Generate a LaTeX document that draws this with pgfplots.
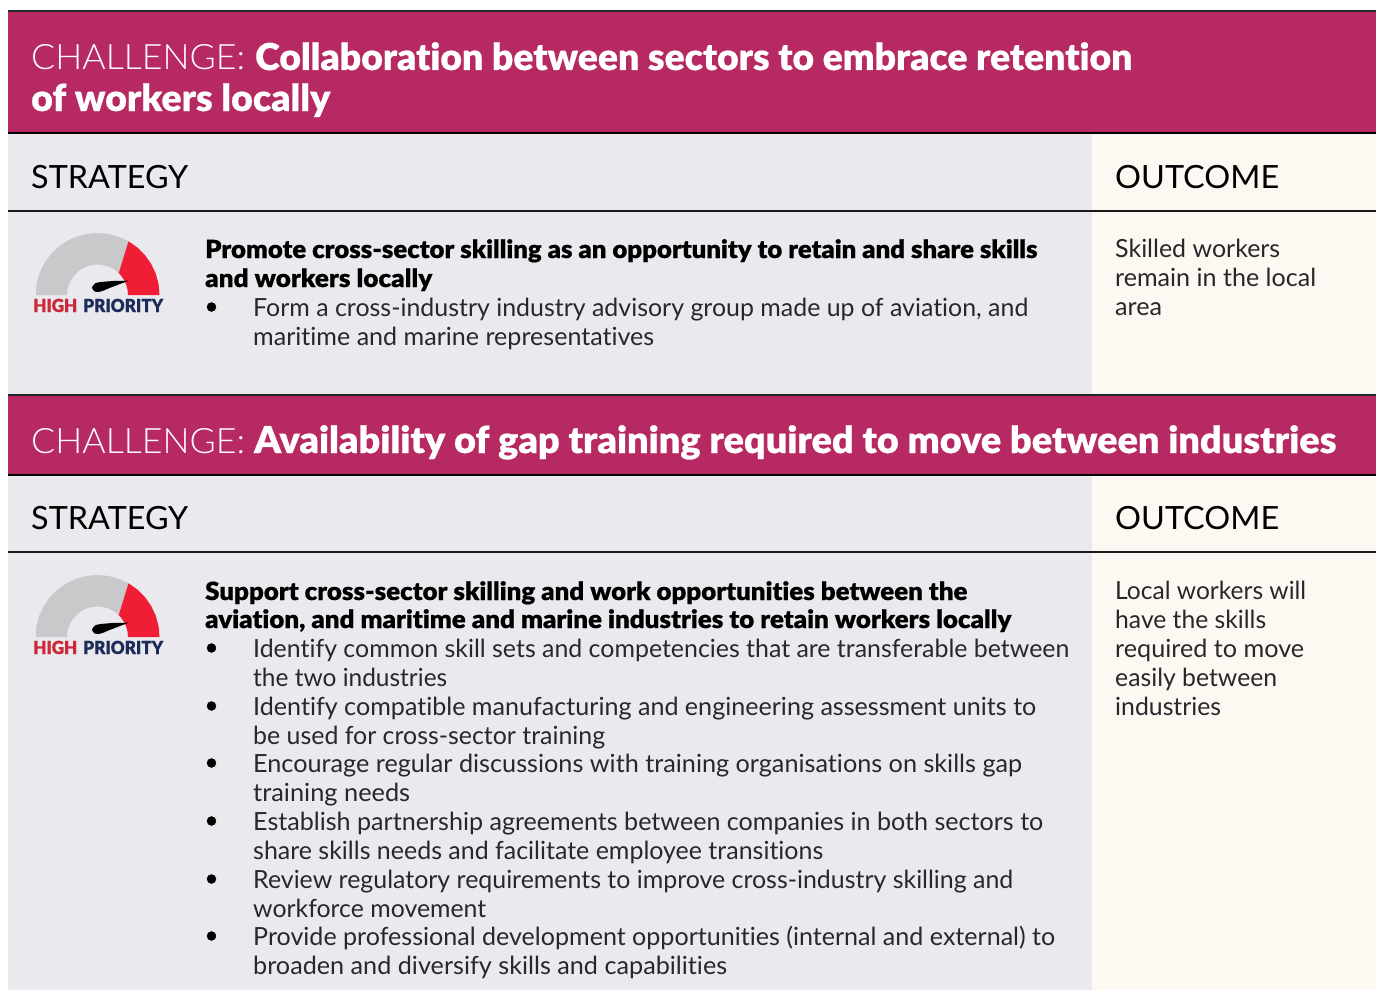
\documentclass[border=0pt]{standalone}
\usepackage{fontspec}
\setmainfont{Lato}[Ligatures=NoCommon]
\newfontfamily\lightf{Lato Light}[Ligatures=NoCommon]
\newfontfamily\blackf{Lato Black}[Ligatures=NoCommon,FakeBold=0.5]
\usepackage{pgfplots}
\usepackage{pgfplotstable}
\pgfplotsset{compat=1.18}
\definecolor{hdr}{RGB}{182,41,99}
\definecolor{panel}{RGB}{233,233,238}
\definecolor{cream}{RGB}{253,248,242}
\definecolor{ggrey}{RGB}{201,201,203}
\definecolor{gred}{RGB}{240,30,52}
\definecolor{hred}{RGB}{205,40,58}
\definecolor{hnavy}{RGB}{30,44,90}
\definecolor{body}{RGB}{40,40,44}
\pgfplotstableread{
x y
-61.5 0
-61.1 10.8
-58.3 21.2
-53.7 31
-47.5 39.9
-39.9 47.5
-31 53.7
-21.2 58.3
-10.8 61.1
0 62
10.8 61.1
21.2 58.3
31 53.7
21.2 21.9
15.25 26.4
10.4 28.7
5.3 30
0 30.5
-5.3 30
-10.4 28.7
-15.25 26.4
-19.6 23.4
-23.4 19.6
-26.4 15.25
-28.7 10.4
-30 5.3
-30.5 0
}\greytab
\pgfplotstableread{
x y
31 53.7
39.9 47.5
47.5 39.9
53.7 31
58.3 21.2
61.1 10.8
62 0
30.5 0
30 5.3
28.7 10.4
26.4 15.25
23.4 19.6
21.2 21.9
}\redtab
\pgfplotstableread{
x y
31 14.3
15 14
3 13
-2 12
-4.5 9.5
-5.5 7.5
-4.5 5
-2 3.2
1 3
5 4
12 7
20 10
}\needletab
% x, baseline, right edge, text
\newcommand{\T}[5]{\node[anchor=base west,inner sep=0pt,text=#5] at (axis cs:#1,#2) {\resizebox{\dimexpr#3pt-#1pt\relax}{\height}{#4}};}
\newcommand{\B}[4]{\T{#1}{#2}{#3}{\fontsize{25}{29}\selectfont #4}{body}}
\newcommand{\Hb}[4]{\T{#1}{#2}{#3}{\fontsize{25}{29}\selectfont\blackf #4}{black}}
\newcommand{\Tt}[4]{\T{#1}{#2}{#3}{\fontsize{37}{40}\selectfont\blackf #4}{white}}
\newcommand{\Ch}[2]{\T{31}{#1}{245}{\fontsize{35}{40}\selectfont\lightf CHALLENGE:}{white}}
\newcommand{\Sh}[4]{\T{#1}{#2}{#3}{\fontsize{32}{36}\selectfont #4}{black}}
\newcommand{\Dot}[1]{\addplot[only marks,mark=*,mark size=4.5pt,mark options={fill=black,draw=none}] coordinates {(211.5,#1)};}
\newcommand{\Gauge}[2]{%
 \addplot[fill=ggrey,draw=none] table[x expr=\thisrow{x}+97.5,y expr=#1-\thisrow{y}] {\greytab} --cycle;
 \addplot[fill=gred,draw=none] table[x expr=\thisrow{x}+97.5,y expr=#1-\thisrow{y}] {\redtab} --cycle;
 \addplot[fill=black,draw=none] table[x expr=\thisrow{x}+97.5,y expr=#1-\thisrow{y}] {\needletab} --cycle;
 \T{33}{#2}{77}{\fontsize{18}{20}\selectfont\blackf HIGH}{hred}
 \T{83}{#2}{163}{\fontsize{18}{20}\selectfont\blackf PRIORITY}{hnavy}
}
\begin{document}
\begin{tikzpicture}
\begin{axis}[at={(0,0)},scale only axis,width=1377pt,height=990pt,xmin=0,xmax=1377,ymin=0,ymax=990,y dir=reverse,hide axis,clip=true,axis on top=false]
\addplot[fill=white,draw=none] coordinates {(0,0)(1377,0)(1377,990)(0,990)} --cycle;
\addplot[fill=panel,draw=none] coordinates {(8,133)(1092,133)(1092,394)(8,394)} --cycle;
\addplot[fill=cream,draw=none] coordinates {(1092,133)(1376,133)(1376,394)(1092,394)} --cycle;
\addplot[fill=panel,draw=none] coordinates {(8,475)(1092,475)(1092,990)(8,990)} --cycle;
\addplot[fill=cream,draw=none] coordinates {(1092,475)(1376,475)(1376,990)(1092,990)} --cycle;
\addplot[fill=hdr,draw=none] coordinates {(8,11)(1376,11)(1376,133)(8,133)} --cycle;
\addplot[fill=hdr,draw=none] coordinates {(8,394)(1376,394)(1376,475)(8,475)} --cycle;
\addplot[black!85,line width=2pt] coordinates {(8,11.5)(1376,11.5)};
\addplot[black,line width=2pt] coordinates {(8,133)(1376,133)};
\addplot[black!90,line width=2pt] coordinates {(8,210.5)(1376,210.5)};
\addplot[black!85,line width=2pt] coordinates {(8,394.5)(1376,394.5)};
\addplot[black,line width=2pt] coordinates {(8,475)(1376,475)};
\addplot[black!90,line width=2pt] coordinates {(8,551.5)(1376,551.5)};
\Gauge{295}{312}
\Gauge{637}{654}
\Dot{307}
\Dot{648}\Dot{706}\Dot{763}\Dot{821}\Dot{879}\Dot{936}
\Ch{70}{}
\Tt{255}{70}{1132}{Collaboration between sectors to embrace retention}
\Tt{31}{111}{330}{of workers locally}
\Ch{453}{}
\Tt{254}{453}{1336}{Availability of gap training required to move between industries}
\Sh{31}{188}{188}{STRATEGY}
\Sh{1115}{188}{1279}{OUTCOME}
\Sh{31}{529}{188}{STRATEGY}
\Sh{1115}{529}{1279}{OUTCOME}
\Hb{205}{258}{1037}{Promote cross-sector skilling as an opportunity to retain and share skills}
\Hb{205}{287}{432}{and workers locally}
\B{253}{316}{1028}{Form a cross-industry industry advisory group made up of aviation, and}
\B{253}{345}{654}{maritime and marine representatives}
\B{1115}{257.5}{1280}{Skilled workers}
\B{1115}{286.5}{1316}{remain in the local}
\B{1115}{315.5}{1162}{area}
\Hb{205}{600}{967}{Support cross-sector skilling and work opportunities between the}
\Hb{205}{628}{1011}{aviation, and maritime and marine industries to retain workers locally}
\B{253}{657}{1069}{Identify common skill sets and competencies that are transferable between}
\B{253}{686}{447}{the two industries}
\B{253}{715}{1036}{Identify compatible manufacturing and engineering assessment units to}
\B{253}{744}{605}{be used for cross-sector training}
\B{253}{772}{1022}{Encourage regular discussions with training organisations on skills gap}
\B{253}{801}{410}{training needs}
\B{253}{830}{1043}{Establish partnership agreements between companies in both sectors to}
\B{253}{859}{823}{share skills needs and facilitate employee transitions}
\B{253}{888}{1013}{Review regulatory requirements to improve cross-industry skilling and}
\B{253}{917}{486}{workforce movement}
\B{253}{945}{1055}{Provide professional development opportunities (internal and external) to}
\B{253}{974}{727}{broaden and diversify skills and capabilities}
\B{1115}{599.5}{1306}{Local workers will}
\B{1115}{628}{1266}{have the skills}
\B{1115}{657}{1304}{required to move}
\B{1115}{686}{1277}{easily between}
\B{1115}{715}{1221}{industries}
\end{axis}
\end{tikzpicture}
\end{document}
